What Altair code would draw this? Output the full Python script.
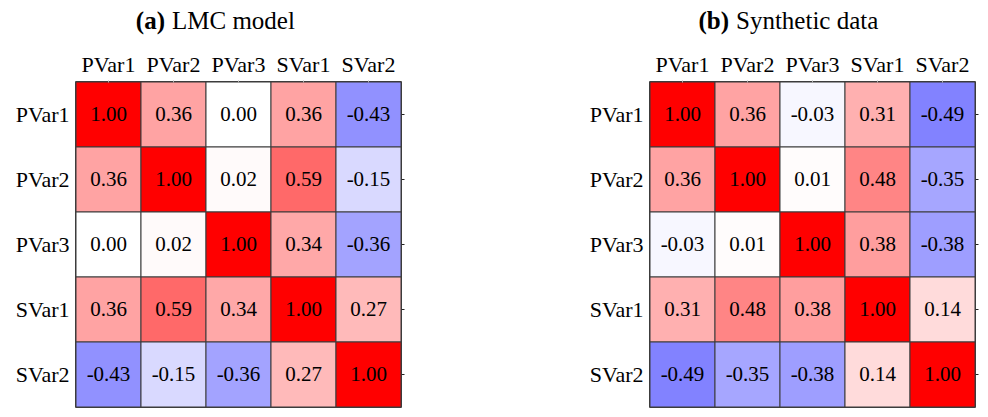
import altair as alt
import pandas as pd

labels = ["PVar1", "PVar2", "PVar3", "SVar1", "SVar2"]

lmc_values = [
    [1.00, 0.36, 0.00, 0.36, -0.43],
    [0.36, 1.00, 0.02, 0.59, -0.15],
    [0.00, 0.02, 1.00, 0.34, -0.36],
    [0.36, 0.59, 0.34, 1.00, 0.27],
    [-0.43, -0.15, -0.36, 0.27, 1.00],
]

synthetic_values = [
    [1.00, 0.36, -0.03, 0.31, -0.49],
    [0.36, 1.00, 0.01, 0.48, -0.35],
    [-0.03, 0.01, 1.00, 0.38, -0.38],
    [0.31, 0.48, 0.38, 1.00, 0.14],
    [-0.49, -0.35, -0.38, 0.14, 1.00],
]

FONT = "Liberation Serif"
SIZE = 325


def to_frame(matrix):
    rows = []
    for i, rname in enumerate(labels):
        for j, cname in enumerate(labels):
            v = matrix[i][j]
            rows.append({"row": rname, "col": cname, "value": v, "label": f"{v:.2f}"})
    return pd.DataFrame(rows)


def panel(matrix, tag, title, tag_x, title_x):
    df = to_frame(matrix)
    base = alt.Chart(df)
    x = alt.X("col:N", sort=labels, title=None,
              scale=alt.Scale(paddingInner=0, paddingOuter=0),
              axis=alt.Axis(orient="top", labelAngle=0, ticks=True, tickSize=2,
                            tickColor="#b0b0b0", domain=False,
                            labelPadding=4, labelFont=FONT, labelFontSize=22,
                            labelColor="black"))
    y_left = alt.Y("row:N", sort=labels, title=None,
                   scale=alt.Scale(paddingInner=0, paddingOuter=0),
                   axis=alt.Axis(orient="left", ticks=False, domain=False,
                                 labelPadding=7, labelFont=FONT, labelFontSize=22,
                                 labelColor="black"))
    y_right = alt.Y("row:N", sort=labels, title=None,
                    axis=alt.Axis(orient="right", labels=False, ticks=True, tickSize=3,
                                  tickColor="#222222", domain=False))
    rects = base.mark_rect(stroke="#3a3a3a", strokeWidth=1).encode(
        x=x, y=y_left,
        color=alt.Color("value:Q", legend=None,
                        scale=alt.Scale(domain=[-1, 0, 1],
                                        range=["#0000ff", "#ffffff", "#ff0000"],
                                        interpolate="rgb")),
    )
    texts = base.mark_text(font=FONT, fontSize=21, color="black").encode(
        x=alt.X("col:N", sort=labels),
        y=y_right,
        text="label:N",
    )
    tag_df = pd.DataFrame({"t": [tag]})
    title_df = pd.DataFrame({"t": [title]})
    tag_mark = alt.Chart(tag_df).mark_text(
        font=FONT, fontSize=25, fontWeight="bold", align="right", baseline="alphabetic",
        color="black").encode(text="t:N", x=alt.value(tag_x), y=alt.value(-53))
    title_mark = alt.Chart(title_df).mark_text(
        font=FONT, fontSize=25, align="left", baseline="alphabetic",
        color="black").encode(text="t:N", x=alt.value(title_x), y=alt.value(-53))
    return alt.layer(rects, texts, tag_mark, title_mark).resolve_axis(
        y="independent").properties(width=SIZE, height=SIZE)


left = panel(lmc_values, "(a)", "LMC model", 89, 96)
right = panel(synthetic_values, "(b)", "Synthetic data", 79, 86)

chart = alt.hconcat(left, right, spacing=182).properties(
    padding={"left": 6, "top": 0, "right": 0, "bottom": 0}
).configure_view(stroke="black", strokeWidth=1.5)

chart.save("out.html", embed_options={"renderer": "svg", "actions": False})
